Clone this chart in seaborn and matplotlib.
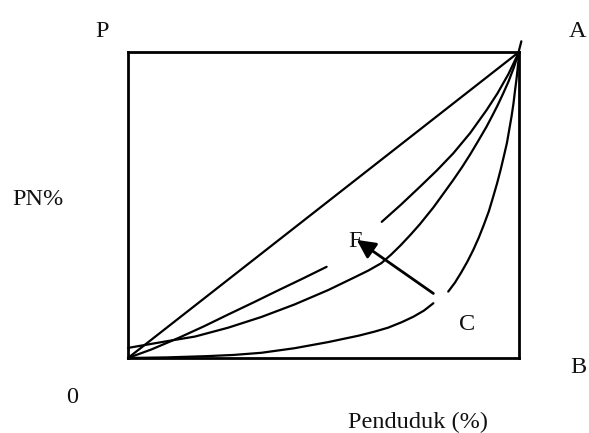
import numpy as np
import pandas as pd
import matplotlib
matplotlib.use('Agg')
import matplotlib.pyplot as plt
import seaborn as sns

# ── Garis pemerataan sempurna (diagonal)
diag_x = [0, 100]
diag_y = [0, 100]

# ── Kurva 2 (terputus di sekitar F)
c2a_x = [0, 6, 13, 19.5, 25.6, 32, 38.4, 44.6, 50.8]
c2a_y = [0, 2.8, 6.6, 10.4, 14.2, 18.1, 22.1, 25.9, 29.8]
c2b_x = [64.9, 69.8, 74.7, 79, 83.2, 87.5, 91.7, 94.5, 97.3, 100]
c2b_y = [44.5, 50.1, 56.0, 61.3, 66.9, 73.5, 81.0, 86.5, 92.8, 100]

# ── Kurva 3 (utuh)
c3_x = [0, 5, 10, 17.1, 25.6, 34.1, 42.6, 51.2, 58, 61.5, 64.8, 67.3, 69.7, 72.2, 74.7,
        78.1, 80.6, 83.2, 85.4, 87.5, 89.6, 91.7, 93.1, 94.5, 95.9, 97.3, 98.7, 100]
c3_y = [3.3, 4.4, 5.5, 7.0, 9.9, 13.4, 17.5, 22.2, 26.4, 28.6, 31.0, 33.8, 36.8, 40.2, 43.8,
        49.2, 53.6, 58.2, 62.3, 66.5, 71.0, 75.6, 79.0, 82.5, 86.3, 90.3, 95.0, 100]

# ── Kurva C (terputus dekat label C)
c4a_x = [0, 10, 20, 27, 34.1, 42.6, 51.2, 59, 63, 66.5, 70, 73, 75.7, 78.1]
c4a_y = [0, 0.2, 0.6, 1.0, 1.7, 3.2, 5.2, 7.3, 8.6, 9.9, 11.7, 13.5, 15.5, 17.9]
c4b_x = [81.9, 83.6, 85.2, 86.8, 88.3, 89.7, 91, 92.3, 93.4, 94.4, 95.3, 96.1, 96.9,
         97.5, 98.1, 98.6, 99.0, 99.35, 99.6, 99.85, 100]
c4b_y = [21.7, 24.6, 27.9, 31.5, 35.3, 39.3, 43.5, 48.0, 52.7, 57.1, 61.5, 65.8, 70.2,
         74.6, 79.0, 83.3, 87.6, 91.0, 94.0, 97.0, 100]

# ── garis kecil yang melewati titik A
ext_x = [99.4, 100.6]
ext_y = [97.5, 103.5]

# ── panah dari C menuju F
arrow_tail = (78.1, 21.1)
arrow_head = (58.5, 38.6)

sns.set_style('white')
plt.rcParams['font.family'] = ['Liberation Serif', 'DejaVu Serif']

W, H = 589, 433
fig = plt.figure(figsize=(W / 100, H / 100), dpi=100)
ax = fig.add_axes([128 / W, 1 - 358 / H, (519 - 128) / W, (358 - 52) / H])

segments = [(diag_x, diag_y), (c2a_x, c2a_y), (c2b_x, c2b_y), (c3_x, c3_y),
            (c4a_x, c4a_y), (c4b_x, c4b_y), (ext_x, ext_y)]
for xs, ys in segments:
    seg = pd.DataFrame({'x': xs, 'y': ys})
    sns.lineplot(data=seg, x='x', y='y', sort=False, color='black', lw=1.6,
                 ax=ax, clip_on=False)

ax.annotate('', xy=arrow_head, xytext=arrow_tail,
            arrowprops=dict(arrowstyle='-|>', color='black', lw=2.0,
                            mutation_scale=28, shrinkA=0, shrinkB=0))

ax.set_xlim(0, 100)
ax.set_ylim(0, 100)
ax.set_xticks([])
ax.set_yticks([])
ax.set_xlabel('')
ax.set_ylabel('')
for s in ax.spines.values():
    s.set_visible(True)
    s.set_color('black')
    s.set_linewidth(2.0)

fs = 17.5
def label(txt, px, py):
    fig.text(px / W, 1 - py / H, txt, ha='center', va='baseline', fontsize=fs, color='#111111')

label('P', 102, 37)
label('A', 578, 37)
label('PN%', 37.5, 205)
label('0', 72.5, 403)
label('B', 578, 373)
label('Penduduk (%)', 417.5, 428)
label('C', 467.5, 330)
label('F', 355, 247)

fig.savefig('out.png', dpi=100)
